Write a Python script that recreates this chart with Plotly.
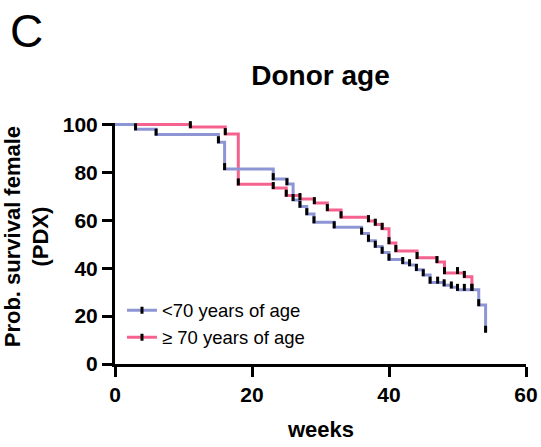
import plotly.graph_objects as go
import numpy as np

# ---- data (weeks, survival %) ----
young_t = [0, 3.0, 6.0, 15.1, 16.0, 23.1, 25.1, 26.0, 27.0, 28.0, 29.05, 32.0, 36.0, 37.0, 38.0,
           39.0, 40.0, 42.0, 43.0, 44.0, 45.0, 46.0, 48.05, 49.1, 50.0, 53.1, 54.1]
young_s = [100, 98.0, 95.8, 92.6, 81.4, 77.2, 75.1, 68.5, 65.7, 62.6, 59.2, 57.1, 54.5, 51.5, 49.0,
           46.5, 43.6, 42.2, 41.3, 39.3, 37.1, 34.0, 32.9, 32.0, 31.0, 24.6, 13.5]
young_censor = [3.0, 6.0, 15.1, 16.0, 23.1, 25.1, 26.0, 27.0, 28.0, 29.05, 32.0, 36.0, 37.0, 38.0,
                39.0, 40.0, 42.0, 43.0, 44.0, 45.0, 46.0, 47.1, 48.05, 49.1, 50.0, 51.0, 52.1, 53.1, 54.1]

old_t = [0, 11.0, 16.1, 18.0, 23.1, 25.0, 27.0, 29.1, 31.0, 33.0, 37.0, 38.0, 39.0, 40.0, 41.0,
         44.1, 47.0, 48.1, 51.0, 52.1]
old_s = [100, 98.9, 96.0, 75.0, 73.5, 70.3, 68.9, 67.2, 64.3, 61.3, 59.7, 58.2, 56.5, 50.5, 47.2,
         44.3, 42.6, 38.0, 36.4, 31.0]
old_censor = [11.0, 16.1, 18.0, 23.1, 25.0, 27.0, 29.1, 31.0, 33.0, 37.0, 38.0, 39.0, 40.0, 41.0,
              44.1, 47.0, 48.1, 50.0, 51.0, 52.1]

names = ["<70 years of age", "\u2265 70 years of age"]
x_ticks = [0, 20, 40, 60]
y_ticks = [0, 20, 40, 60, 80, 100]

BLUE = "rgb(142,149,212)"
PINK = "rgb(245,98,142)"
FONT = "Liberation Sans"
TICK_LIFT = 1.0  # censor tick sits just above the curve level


def step_value(ts, ss, t):
    idx = np.searchsorted(np.array(ts), t, side="right") - 1
    return ss[max(idx, 0)]


fig = go.Figure()

for ts, ss, col, nm in [(old_t, old_s, PINK, names[1]), (young_t, young_s, BLUE, names[0])]:
    fig.add_trace(go.Scatter(x=ts, y=ss, mode="lines", line=dict(color=col, width=3, shape="hv"),
                             showlegend=False, hoverinfo="skip"))

for ts, ss, cs in [(old_t, old_s, old_censor), (young_t, young_s, young_censor)]:
    cy = [step_value(ts, ss, c) + TICK_LIFT for c in cs]
    fig.add_trace(go.Scatter(x=cs, y=cy, mode="markers",
                             marker=dict(symbol="line-ns", size=5, color="black",
                                         line=dict(color="black", width=3)),
                             showlegend=False, hoverinfo="skip", cliponaxis=False))

# legend proxies
for col, nm in [(BLUE, names[0]), (PINK, names[1])]:
    fig.add_trace(go.Scatter(x=[None], y=[None], mode="lines+markers", name=nm,
                             line=dict(color=col, width=3),
                             marker=dict(symbol="line-ns", size=5, color="black",
                                         line=dict(color="black", width=3))))

fig.update_layout(
    width=541, height=447,
    margin=dict(l=115, r=15, t=123, b=83, autoexpand=False),
    paper_bgcolor="white", plot_bgcolor="white",
    font=dict(family=FONT, color="black"),
    showlegend=True,
    legend=dict(x=0.017, y=0.30, xanchor="left", yanchor="top",
                bgcolor="rgba(0,0,0,0)", font=dict(size=18.5, family=FONT, color="black"),
                tracegroupgap=0),
    title=dict(text="Donor age", x=0.5, xref="paper", y=1 - 75 / 447, yanchor="middle",
               xanchor="center", automargin=False,
               font=dict(size=28, family=FONT, weight="bold", color="black")),
)

fig.update_xaxes(range=[0, 60], tickvals=x_ticks, ticktext=[str(v) for v in x_ticks],
                 automargin=False,
                 showgrid=False, zeroline=False, showline=True, linecolor="black", linewidth=3,
                 ticks="outside", ticklen=10, tickwidth=3, tickcolor="black",
                 tickfont=dict(size=21, family=FONT, weight="bold", color="black"))
fig.update_yaxes(range=[0, 100.6], tickvals=y_ticks, ticktext=[str(v) for v in y_ticks],
                 automargin=False,
                 showgrid=False, zeroline=False, showline=True, linecolor="black", linewidth=3,
                 ticks="outside", ticklen=10, tickwidth=3, tickcolor="black",
                 tickfont=dict(size=21, family=FONT, weight="bold", color="black"))

fig.add_annotation(text="weeks", xref="paper", yref="paper", x=0.5, y=-0.273,
                   xanchor="center", yanchor="middle", showarrow=False,
                   font=dict(size=22, family=FONT, weight="bold", color="black"))
fig.add_annotation(text="Prob. survival female<br>(PDX)", xref="paper", yref="paper",
                   x=-0.2153, y=0.528, xanchor="center", yanchor="middle", textangle=-90,
                   showarrow=False,
                   font=dict(size=22, family=FONT, weight="bold", color="black"))
fig.add_annotation(text="C", xref="paper", yref="paper", x=-0.2165, y=1.38,
                   xanchor="center", yanchor="middle", showarrow=False,
                   font=dict(size=46, family=FONT, color="black"))

fig.write_html("out.html")
